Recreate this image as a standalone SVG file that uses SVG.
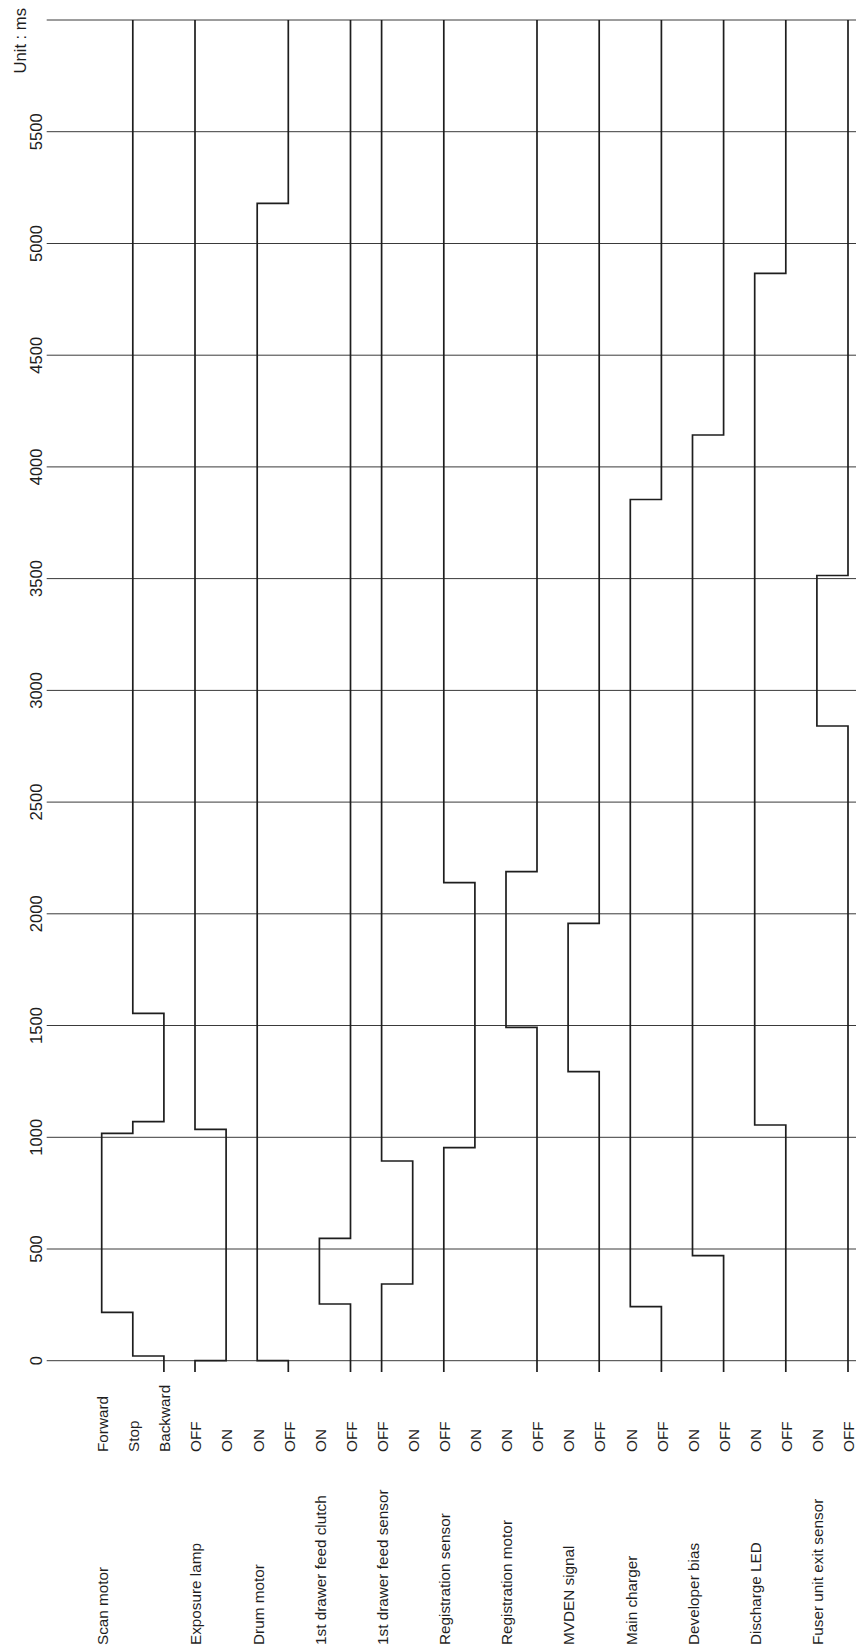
<svg xmlns="http://www.w3.org/2000/svg" width="856" height="1651" viewBox="0 0 856 1651">
<style>
.grid{stroke:#3a3a3a;stroke-width:1;fill:none}
.sig{stroke:#1e1e1e;stroke-width:1.7;fill:none;stroke-linejoin:miter;stroke-linecap:butt}
.t{font-family:"Liberation Sans",Arial,sans-serif;font-size:15.3px;fill:#1e1e1e}
.n{font-family:"Liberation Sans",Arial,sans-serif;font-size:16.6px;fill:#1e1e1e;text-anchor:middle}
.u{font-family:"Liberation Sans",Arial,sans-serif;font-size:16.6px;fill:#1e1e1e}
</style>
<rect width="856" height="1651" fill="#fff"/>
<g id="grid">
<line class="grid" x1="46.7" y1="20" x2="856" y2="20"/>
<line class="grid" x1="46.7" y1="131.7" x2="856" y2="131.7"/>
<line class="grid" x1="46.7" y1="243.5" x2="856" y2="243.5"/>
<line class="grid" x1="46.7" y1="355.2" x2="856" y2="355.2"/>
<line class="grid" x1="46.7" y1="466.9" x2="856" y2="466.9"/>
<line class="grid" x1="46.7" y1="578.6" x2="856" y2="578.6"/>
<line class="grid" x1="46.7" y1="690.4" x2="856" y2="690.4"/>
<line class="grid" x1="46.7" y1="802.1" x2="856" y2="802.1"/>
<line class="grid" x1="46.7" y1="913.8" x2="856" y2="913.8"/>
<line class="grid" x1="46.7" y1="1025.5" x2="856" y2="1025.5"/>
<line class="grid" x1="46.7" y1="1137.3" x2="856" y2="1137.3"/>
<line class="grid" x1="46.7" y1="1249" x2="856" y2="1249"/>
<line class="grid" x1="46.7" y1="1360.7" x2="856" y2="1360.7"/>
</g>
<g id="axis-labels">
<text class="u" transform="translate(25.5,73.5) rotate(-90)">Unit : ms</text>
<text class="n" transform="translate(41.5,131.7) rotate(-90)">5500</text>
<text class="n" transform="translate(41.5,243.5) rotate(-90)">5000</text>
<text class="n" transform="translate(41.5,355.2) rotate(-90)">4500</text>
<text class="n" transform="translate(41.5,466.9) rotate(-90)">4000</text>
<text class="n" transform="translate(41.5,578.6) rotate(-90)">3500</text>
<text class="n" transform="translate(41.5,690.4) rotate(-90)">3000</text>
<text class="n" transform="translate(41.5,802.1) rotate(-90)">2500</text>
<text class="n" transform="translate(41.5,913.8) rotate(-90)">2000</text>
<text class="n" transform="translate(41.5,1025.5) rotate(-90)">1500</text>
<text class="n" transform="translate(41.5,1137.3) rotate(-90)">1000</text>
<text class="n" transform="translate(41.5,1249) rotate(-90)">500</text>
<text class="n" transform="translate(41.5,1360.7) rotate(-90)">0</text>
</g>
<g id="scan-motor">
<text class="t" transform="translate(108,1645) rotate(-90)">Scan motor</text>
<text class="t" transform="translate(108,1452) rotate(-90)">Forward</text>
<text class="t" transform="translate(139,1452) rotate(-90)">Stop</text>
<text class="t" transform="translate(170,1452) rotate(-90)">Backward</text>
</g>
<g id="exposure-lamp">
<text class="t" transform="translate(201,1645) rotate(-90)">Exposure lamp</text>
<text class="t" transform="translate(201,1452) rotate(-90)">OFF</text>
<text class="t" transform="translate(232,1452) rotate(-90)">ON</text>
</g>
<g id="drum-motor">
<text class="t" transform="translate(263.5,1645) rotate(-90)">Drum motor</text>
<text class="t" transform="translate(263.5,1452) rotate(-90)">ON</text>
<text class="t" transform="translate(294.5,1452) rotate(-90)">OFF</text>
</g>
<g id="feed-clutch">
<text class="t" transform="translate(325.5,1645) rotate(-90)">1st drawer feed clutch</text>
<text class="t" transform="translate(325.5,1452) rotate(-90)">ON</text>
<text class="t" transform="translate(356.5,1452) rotate(-90)">OFF</text>
</g>
<g id="feed-sensor">
<text class="t" transform="translate(387.5,1645) rotate(-90)">1st drawer feed sensor</text>
<text class="t" transform="translate(387.5,1452) rotate(-90)">OFF</text>
<text class="t" transform="translate(418.5,1452) rotate(-90)">ON</text>
</g>
<g id="registration-sensor">
<text class="t" transform="translate(450,1645) rotate(-90)">Registration sensor</text>
<text class="t" transform="translate(450,1452) rotate(-90)">OFF</text>
<text class="t" transform="translate(481,1452) rotate(-90)">ON</text>
</g>
<g id="registration-motor">
<text class="t" transform="translate(512,1645) rotate(-90)">Registration motor</text>
<text class="t" transform="translate(512,1452) rotate(-90)">ON</text>
<text class="t" transform="translate(543,1452) rotate(-90)">OFF</text>
</g>
<g id="mvden-signal">
<text class="t" transform="translate(574,1645) rotate(-90)">MVDEN signal</text>
<text class="t" transform="translate(574,1452) rotate(-90)">ON</text>
<text class="t" transform="translate(605,1452) rotate(-90)">OFF</text>
</g>
<g id="main-charger">
<text class="t" transform="translate(636.5,1645) rotate(-90)">Main charger</text>
<text class="t" transform="translate(636.5,1452) rotate(-90)">ON</text>
<text class="t" transform="translate(667.5,1452) rotate(-90)">OFF</text>
</g>
<g id="developer-bias">
<text class="t" transform="translate(698.5,1645) rotate(-90)">Developer bias</text>
<text class="t" transform="translate(698.5,1452) rotate(-90)">ON</text>
<text class="t" transform="translate(729.5,1452) rotate(-90)">OFF</text>
</g>
<g id="discharge-led">
<text class="t" transform="translate(761,1645) rotate(-90)">Discharge LED</text>
<text class="t" transform="translate(761,1452) rotate(-90)">ON</text>
<text class="t" transform="translate(792,1452) rotate(-90)">OFF</text>
</g>
<g id="fuser-exit-sensor">
<text class="t" transform="translate(823,1645) rotate(-90)">Fuser unit exit sensor</text>
<text class="t" transform="translate(823,1452) rotate(-90)">ON</text>
<text class="t" transform="translate(854,1452) rotate(-90)">OFF</text>
</g>
<g id="connectors">
<path class="sig" d="M163.9,1372 V1356 H132.8 V1312.3 H101.7 V1133.3 H132.8 V1121.7 H163.9 V1013.3 H132.8 V20"/>
<path class="sig" d="M195,1372 V1360.7 H226.1 V1129.3 H195 V20"/>
<path class="sig" d="M288.3,1372 V1360.7 H257.2 V203.3 H288.3 V20"/>
<path class="sig" d="M350.5,1372 V1304 H319.4 V1238.3 H350.5 V20"/>
<path class="sig" d="M381.6,1372 V1284 H412.7 V1161 H381.6 V20"/>
<path class="sig" d="M443.8,1372 V1147.7 H474.9 V882.7 H443.8 V20"/>
<path class="sig" d="M537,1372 V1027.3 H506 V871.7 H537 V20"/>
<path class="sig" d="M599.2,1372 V1071.7 H568.1 V923.3 H599.2 V20"/>
<path class="sig" d="M661.4,1372 V1306.7 H630.3 V499.5 H661.4 V20"/>
<path class="sig" d="M723.6,1372 V1255.7 H692.5 V435 H723.6 V20"/>
<path class="sig" d="M785.8,1372 V1125 H754.7 V273.3 H785.8 V20"/>
<path class="sig" d="M848,1372 V726 H816.9 V575.5 H848 V20"/>
</g>
</svg>
